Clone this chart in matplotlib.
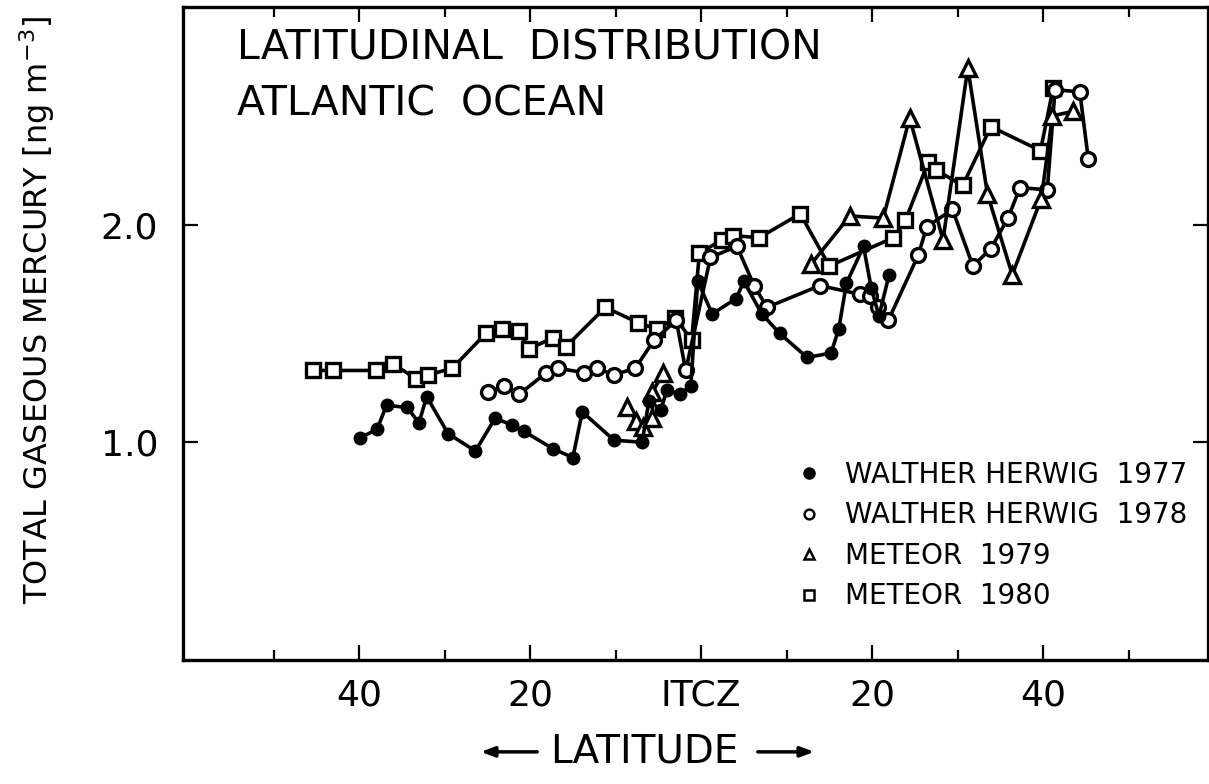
import matplotlib
matplotlib.use('Agg')
import matplotlib.pyplot as plt
from matplotlib.lines import Line2D

plt.rcParams['font.family'] = ['DejaVu Sans']

# latitude relative to ITCZ (negative = left side of the chart), mercury in ng m-3
wh77_lat = [-39.9, -37.9, -36.8, -34.4, -33.0, -32.1, -29.6, -26.4, -24.1, -22.1,
            -20.7, -17.3, -15.0, -13.9, -10.2, -6.9, -6.1, -4.7, -4.0, -2.5,
            -1.2, -0.4, 1.3, 4.1, 5.0, 7.1, 9.2, 12.4, 15.2, 16.1,
            17.0, 19.0, 19.9, 20.8, 22.0]
wh77_hg = [1.02, 1.06, 1.17, 1.16, 1.09, 1.21, 1.04, 0.96, 1.11, 1.08,
           1.05, 0.97, 0.93, 1.14, 1.01, 1.00, 1.19, 1.15, 1.24, 1.22,
           1.26, 1.74, 1.59, 1.66, 1.74, 1.59, 1.50, 1.39, 1.41, 1.52,
           1.73, 1.90, 1.71, 1.58, 1.77]

wh78_lat = [-24.9, -23.0, -21.3, -18.1, -16.7, -13.7, -12.2, -10.2, -7.7, -5.5,
            -2.9, -1.8, 1.1, 4.2, 6.2, 7.7, 13.9, 18.6, 19.7, 20.7,
            21.9, 25.4, 26.4, 29.4, 31.8, 33.9, 35.9, 37.3, 40.5, 41.4,
            44.3, 45.3]
wh78_hg = [1.23, 1.26, 1.22, 1.32, 1.34, 1.32, 1.34, 1.31, 1.34, 1.47,
           1.56, 1.33, 1.85, 1.90, 1.72, 1.62, 1.72, 1.68, 1.67, 1.62,
           1.56, 1.86, 1.99, 2.07, 1.81, 1.89, 2.03, 2.17, 2.16, 2.62,
           2.61, 2.30]

# Meteor 1979 was drawn as two separate pieces
met79a_lat = [-8.7, -7.6, -6.8, -5.7, -5.7, -4.4]
met79a_hg = [1.16, 1.10, 1.07, 1.11, 1.23, 1.32]
met79b_lat = [12.9, 17.4, 21.3, 24.4, 28.3, 31.2, 33.5, 36.4, 39.8, 41.1, 43.5]
met79b_hg = [1.82, 2.04, 2.03, 2.49, 1.93, 2.72, 2.14, 1.77, 2.12, 2.50, 2.52]

met80_lat = [-45.4, -43.0, -38.0, -36.0, -33.3, -31.9, -29.1, -25.2, -23.3, -21.3,
             -20.1, -17.3, -15.8, -11.2, -7.4, -5.2, -3.0, -1.1, -0.2, 2.5,
             3.7, 6.8, 11.6, 15.0, 22.5, 23.9, 26.6, 27.5, 30.6, 33.9,
             39.7, 41.2]
met80_hg = [1.33, 1.33, 1.33, 1.36, 1.29, 1.31, 1.34, 1.50, 1.52, 1.51,
            1.43, 1.48, 1.44, 1.62, 1.55, 1.52, 1.57, 1.47, 1.87, 1.93,
            1.95, 1.94, 2.05, 1.81, 1.94, 2.02, 2.29, 2.25, 2.18, 2.45,
            2.34, 2.63]

xtick_pos = [-40, -20, 0, 20, 40]
xtick_lab = ['40', '20', 'ITCZ', '20', '40']
xminor_pos = [-50, -30, -10, 10, 30, 50]
ytick_pos = [1.0, 2.0]
ytick_lab = ['1.0', '2.0']
legend_lab = ['WALTHER HERWIG  1977', 'WALTHER HERWIG  1978', 'METEOR  1979', 'METEOR  1980']


def main():
    fig = plt.figure(figsize=(12.09, 7.84), dpi=100)
    ax = fig.add_axes([0.1514, 0.1582, 0.8478, 0.8329])

    lw = 2.6
    ax.plot(met80_lat, met80_hg, '-s', color='black', lw=lw, ms=10.5,
            mfc='white', mec='black', mew=2.4, zorder=2)
    ax.plot(wh78_lat, wh78_hg, '-o', color='black', lw=lw, ms=10,
            mfc='white', mec='black', mew=2.4, zorder=3)
    for la, hg in [(met79a_lat, met79a_hg), (met79b_lat, met79b_hg)]:
        ax.plot(la, hg, '-^', color='black', lw=lw, ms=11,
                mfc='white', mec='black', mew=2.4, zorder=3)
    ax.plot(wh77_lat, wh77_hg, '-o', color='black', lw=lw, ms=9,
            mfc='black', mec='black', zorder=4)

    ax.set_xlim(-60.6, 59.3)
    ax.set_ylim(0, 3.0)
    ax.set_xticks(xtick_pos)
    ax.set_xticklabels(xtick_lab, fontsize=26)
    ax.set_xticks(xminor_pos, minor=True)
    ax.set_yticks(ytick_pos)
    ax.set_yticklabels(ytick_lab, fontsize=26)
    ax.tick_params(which='both', direction='in', top=True, right=True, width=1.6)
    ax.tick_params(which='major', length=11)
    ax.tick_params(which='minor', length=7)
    ax.tick_params(axis='x', pad=13)
    ax.tick_params(axis='y', pad=18)
    for s in ax.spines.values():
        s.set_linewidth(2.4)

    ax.text(0.053, 0.937, 'LATITUDINAL  DISTRIBUTION', transform=ax.transAxes,
            fontsize=29.5, va='center', ha='left')
    ax.text(0.053, 0.850, 'ATLANTIC  OCEAN', transform=ax.transAxes,
            fontsize=29.5, va='center', ha='left')

    handles = [
        Line2D([], [], ls='none', marker='o', ms=8, mfc='black', mec='black'),
        Line2D([], [], ls='none', marker='o', ms=7, mfc='white', mec='black', mew=1.8),
        Line2D([], [], ls='none', marker='^', ms=7.5, mfc='white', mec='black', mew=1.8),
        Line2D([], [], ls='none', marker='s', ms=7, mfc='white', mec='black', mew=1.8),
    ]
    ax.legend(handles, legend_lab, loc='upper left', bbox_to_anchor=(0.60, 0.305),
              frameon=False, fontsize=20, handlelength=0.8, handletextpad=0.9,
              labelspacing=0.45, borderpad=0, borderaxespad=0)

    fig.text(0.031, 0.605, 'TOTAL GASEOUS MERCURY [ng m$^{-3}$]', rotation=90,
             fontsize=23, ha='center', va='center')
    fig.text(0.533, 0.041, 'LATITUDE', fontsize=28, ha='center', va='center')
    arrow = dict(arrowstyle='-|>,head_length=0.8,head_width=0.3', color='black', lw=2.5)
    ax.annotate('', xy=(478 / 1209, 0.041), xytext=(540 / 1209, 0.041),
                xycoords='figure fraction', textcoords='figure fraction',
                arrowprops=arrow)
    ax.annotate('', xy=(817 / 1209, 0.041), xytext=(755 / 1209, 0.041),
                xycoords='figure fraction', textcoords='figure fraction',
                arrowprops=arrow)

    fig.savefig('out.png', dpi=100)


if __name__ == '__main__':
    main()
